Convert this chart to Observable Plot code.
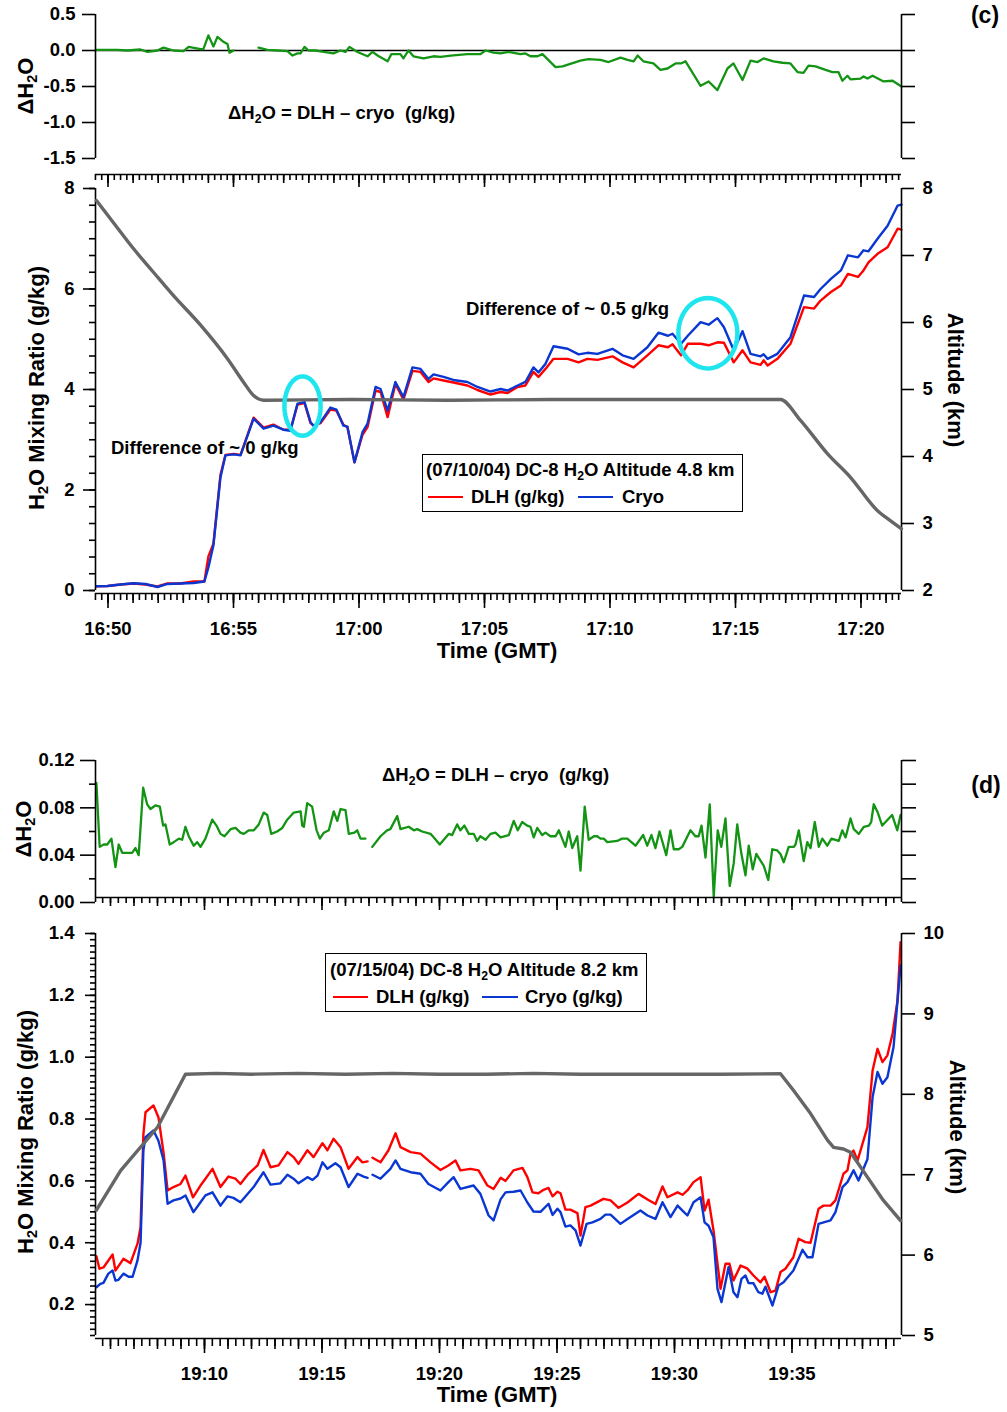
<!DOCTYPE html>
<html><head><meta charset="utf-8">
<script src="https://cdn.jsdelivr.net/npm/d3@7"></script>
<script src="https://cdn.jsdelivr.net/npm/@observablehq/plot@0.6"></script>
<style>
body{margin:0;background:#fff;}
#root{position:relative;width:1007px;height:1412px;overflow:hidden;font-family:"Liberation Sans",Arial,sans-serif;font-weight:bold;color:#000;background:#fff;}
.lbl{position:absolute;white-space:nowrap;line-height:1;}
.sub{font-size:0.66em;position:relative;top:0.3em;}
.legend{position:absolute;border:1.5px solid #000;background:#fff;box-sizing:border-box;}
.lline{position:absolute;height:2px;}
</style></head><body><div id="root"></div>
<script>
// ---------------- DATA ----------------
// Panel (c): times in minutes after 16:00 GMT (07/10/04)
const cTimeTicks = [50, 55, 60, 65, 70, 75, 80];
const cTimeLabels = ["16:50", "16:55", "17:00", "17:05", "17:10", "17:15", "17:20"];
const cT = [49.54,49.98,50.50,51.02,51.49,51.97,52.37,52.89,53.41,53.84,54.00,54.20,54.48,54.68,55.00,55.28,55.80,56.20,56.59,56.99,
  57.27,57.55,57.83,58.07,58.19,58.47,58.86,59.10,59.38,59.54,59.82,60.14,60.34,60.66,60.86,61.14,61.45,61.77,62.13,62.45,
  62.77,62.97,63.37,63.76,64.32,64.72,65.24,65.64,65.92,66.32,66.63,66.95,67.15,67.43,67.75,68.31,68.75,69.10,69.50,70.10,
  70.50,70.94,71.49,71.93,72.31,72.49,72.83,73.10,73.61,73.93,74.28,74.54,74.93,75.28,75.60,76.00,76.12,76.28,76.67,77.19,
  77.73,78.13,78.39,78.80,79.20,79.48,79.88,80.10,80.30,80.66,81.06,81.46,81.61];
const cCryo = [0.085,0.09,0.12,0.145,0.13,0.07,0.13,0.14,0.15,0.18,0.46,0.90,2.25,2.69,2.71,2.69,3.42,3.22,3.28,3.20,
  3.18,3.72,3.75,3.35,3.28,3.35,3.64,3.60,3.28,3.26,2.55,3.15,3.32,4.05,4.01,3.58,4.15,3.85,4.44,4.41,
  4.21,4.30,4.25,4.19,4.15,4.05,3.96,4.01,3.98,4.08,4.15,4.44,4.34,4.51,4.86,4.81,4.70,4.73,4.71,4.81,
  4.68,4.61,4.84,5.13,5.07,5.11,4.91,5.07,5.34,5.29,5.42,5.24,4.78,5.16,4.71,4.66,4.70,4.61,4.71,5.04,
  5.87,5.84,6.00,6.20,6.37,6.67,6.63,6.77,6.75,7.00,7.26,7.66,7.68];
const cDlh = [0.085,0.09,0.12,0.14,0.12,0.08,0.14,0.14,0.18,0.18,0.68,0.93,2.30,2.70,2.72,2.70,3.44,3.24,3.30,3.20,
  3.20,3.70,3.73,3.33,3.28,3.33,3.60,3.58,3.30,3.25,2.55,3.10,3.25,3.98,3.95,3.45,4.11,3.80,4.37,4.35,
  4.15,4.22,4.18,4.14,4.08,3.99,3.90,3.95,3.93,4.05,4.08,4.35,4.25,4.41,4.61,4.61,4.54,4.61,4.59,4.66,
  4.54,4.44,4.68,4.88,4.84,4.90,4.68,4.91,4.91,4.88,4.94,4.93,4.54,4.78,4.54,4.49,4.58,4.48,4.61,4.91,
  5.64,5.61,5.77,5.94,6.07,6.30,6.24,6.37,6.53,6.70,6.83,7.20,7.18];
const cAltT = [49.54,50.50,51.02,51.81,52.61,53.69,54.76,55.40,55.80,56.20,59.66,63.65,67.63,71.61,76.79,77.59,78.67,79.58,80.66,81.18,81.61];
const cAlt  = [7.82,7.35,7.10,6.75,6.40,5.96,5.46,5.11,4.91,4.84,4.85,4.84,4.85,4.85,4.85,4.54,4.04,3.69,3.19,3.04,2.92];
const cDeltaT = [49.54,50.38,50.78,51.29,51.57,51.97,52.21,52.61,53.01,53.21,53.69,53.80,54.00,54.20,54.36,54.60,54.76,54.84,55.00,55.50,
  56.00,56.35,56.75,57.15,57.35,57.55,57.67,57.83,57.99,58.27,58.59,58.98,59.26,59.46,59.62,59.94,60.34,60.54,60.74,61.14,
  61.29,61.65,61.77,61.97,62.17,62.57,62.97,63.25,63.65,64.32,64.84,65.04,65.36,65.64,65.96,66.43,66.63,66.83,67.11,67.31,
  67.83,68.11,68.82,69.14,69.62,69.94,70.42,70.70,70.94,71.10,71.33,71.73,72.01,72.29,72.61,72.83,73.01,73.61,73.93,74.28,
  74.68,74.92,75.28,75.60,75.88,76.12,76.51,76.87,77.19,77.47,77.71,77.91,78.19,78.59,78.86,79.10,79.26,79.46,79.58,79.98,
  80.10,80.26,80.46,80.90,81.26,81.61];
const cDelta = [0.01,0.01,0,0.014,-0.02,0,0.04,0,-0.01,0.05,0.02,0.02,0.21,0.055,0.19,0.12,0.09,-0.03,0,null,
  0.04,0.01,0,-0.01,-0.07,-0.04,-0.04,0.05,0,0,-0.02,-0.04,0,-0.02,0.05,-0.02,-0.08,-0.02,-0.07,-0.15,
  -0.05,-0.05,-0.11,0,-0.08,-0.11,-0.08,-0.09,-0.07,-0.05,-0.05,0,-0.03,-0.04,-0.02,-0.05,-0.04,-0.08,-0.08,-0.05,
  -0.23,-0.22,-0.14,-0.12,-0.13,-0.16,-0.10,-0.13,-0.15,-0.07,-0.15,-0.18,-0.27,-0.25,-0.18,-0.18,-0.15,-0.49,-0.43,-0.55,
  -0.25,-0.18,-0.41,-0.14,-0.16,-0.11,-0.15,-0.17,-0.18,-0.30,-0.31,-0.21,-0.22,-0.27,-0.30,-0.30,-0.42,-0.35,-0.40,-0.39,
  -0.36,-0.39,-0.35,-0.43,-0.42,-0.50];
const cDeltaTicks = [-1.5, -1, -0.5, 0, 0.5];
const cDeltaLabels = ["-1.5", "-1.0", "-0.5", "0.0", "0.5"];
const cMixTicks = [0, 2, 4, 6, 8];
const cMixLabels = ["0", "2", "4", "6", "8"];
const cAltTicks = [2, 3, 4, 5, 6, 7, 8];
const cAltLabels = ["2", "3", "4", "5", "6", "7", "8"];
// highlighted regions (centre time, centre value, half-width in min, half-height in g/kg)
const cRingT = [57.75, 73.90];
const cRingV = [3.67, 5.12];
const cRingRt = [0.72, 1.175];
const cRingRv = [0.59, 0.70];

// Panel (d): times in minutes after 19:00 GMT (07/15/04)
const dTimeTicks = [10, 15, 20, 25, 30, 35];
const dTimeLabels = ["19:10", "19:15", "19:20", "19:25", "19:30", "19:35"];
const dDlhT = [5.40,5.53,5.70,6.09,6.21,6.55,6.85,7.15,7.28,7.40,7.49,7.83,8.04,8.26,8.43,8.68,8.98,9.19,9.51,9.83,
  10.04,10.34,10.68,11.02,11.32,11.53,11.87,12.26,12.51,12.81,13.15,13.53,13.79,14.00,14.38,14.64,15.02,15.23,15.49,15.79,
  16.13,16.51,16.72,16.94,17.05,17.15,17.49,17.83,18.13,18.34,18.77,19.19,19.62,20.04,20.38,20.68,20.89,21.32,21.66,22.04,
  22.30,22.60,22.81,23.15,23.53,23.74,23.96,24.21,24.43,24.64,24.81,25.02,25.15,25.36,25.57,25.87,26.00,26.21,26.43,26.98,
  27.28,27.62,28.00,28.47,28.89,29.19,29.49,29.70,30.13,30.34,30.55,30.81,31.11,31.28,31.45,31.66,31.96,32.17,32.34,32.51,
  32.81,33.11,33.36,33.66,33.83,34.09,34.30,34.51,34.72,35.06,35.28,35.57,35.79,36.13,36.34,36.64,36.85,37.19,37.36,37.49,
  37.62,37.79,38.04,38.21,38.43,38.64,38.85,39.06,39.28,39.49,39.62];
const dDlh = [0.356,0.316,0.32,0.362,0.31,0.348,0.334,0.397,0.45,0.75,0.822,0.844,0.806,0.69,0.569,0.58,0.59,0.617,0.547,0.585,
  0.607,0.639,0.58,0.614,0.607,0.59,0.623,0.65,0.70,0.644,0.65,0.693,0.677,0.655,0.699,0.677,0.722,0.699,0.736,0.709,
  0.639,0.677,0.66,0.663,null,0.675,0.66,0.699,0.754,0.709,0.693,0.688,0.66,0.635,0.65,0.666,0.634,0.639,0.634,0.585,
  0.574,0.61,0.60,0.634,0.642,0.612,0.563,0.56,0.571,0.577,0.55,0.565,0.56,0.507,0.507,0.496,0.423,0.515,0.52,0.542,
  0.537,0.513,0.53,0.558,0.538,0.525,0.582,0.547,0.563,0.555,0.569,0.596,0.612,0.504,0.539,0.44,0.251,0.332,0.332,0.278,
  0.326,0.316,0.294,0.272,0.29,0.24,0.245,0.305,0.316,0.353,0.413,0.402,0.40,0.51,0.52,0.52,0.537,0.623,0.634,0.688,
  0.698,0.666,0.73,0.774,0.957,1.027,0.984,1.006,1.076,1.183,1.372];
const dCryoT = [5.40,5.57,5.70,5.91,6.09,6.21,6.34,6.55,6.77,6.94,7.15,7.28,7.40,7.49,7.83,8.04,8.26,8.43,8.68,8.98,
  9.19,9.53,9.83,10.04,10.34,10.68,10.98,11.23,11.53,12.09,12.51,12.81,13.23,13.53,13.79,14.00,14.38,14.60,14.81,15.02,
  15.23,15.57,15.79,16.13,16.51,16.77,16.94,17.05,17.15,17.49,17.91,18.13,18.34,18.77,19.19,19.53,20.04,20.38,20.60,20.89,
  21.45,21.74,22.09,22.30,22.60,22.81,23.15,23.45,23.74,24.00,24.30,24.64,24.81,25.02,25.15,25.36,25.57,25.79,26.00,26.26,
  26.51,26.85,27.06,27.28,27.70,28.00,28.34,28.55,28.85,29.19,29.49,29.83,30.13,30.34,30.55,30.81,31.11,31.28,31.45,31.66,
  31.83,32.00,32.30,32.51,32.68,32.85,33.02,33.15,33.36,33.57,33.74,33.87,34.17,34.43,34.64,35.06,35.45,35.66,35.87,36.13,
  36.64,36.85,37.15,37.36,37.62,37.83,38.21,38.43,38.64,38.85,39.06,39.32,39.62];
const dCryo = [0.256,0.267,0.27,0.30,0.31,0.278,0.28,0.30,0.29,0.29,0.343,0.40,0.70,0.741,0.763,0.73,0.666,0.526,0.537,0.543,
  0.553,0.499,0.531,0.553,0.563,0.52,0.55,0.545,0.531,0.58,0.628,0.588,0.592,0.62,0.607,0.592,0.612,0.603,0.617,0.66,
  0.639,0.657,0.644,0.58,0.623,0.614,0.61,null,0.62,0.607,0.639,0.666,0.639,0.628,0.623,0.59,0.569,0.596,0.612,0.574,
  0.585,0.558,0.488,0.472,0.54,0.563,0.565,0.569,0.53,0.501,0.50,0.526,0.49,0.51,0.499,0.452,0.456,0.44,0.391,0.461,
  0.466,0.477,0.491,0.491,0.461,0.477,0.494,0.504,0.488,0.477,0.531,0.483,0.52,0.504,0.488,0.531,0.547,0.466,0.455,0.418,
  0.251,0.208,0.321,0.24,0.224,0.283,0.294,0.27,0.269,0.24,0.235,0.258,0.197,0.262,0.272,0.31,0.377,0.353,0.353,0.461,
  0.472,0.499,0.58,0.596,0.634,0.601,0.67,0.871,0.952,0.914,0.935,1.032,1.297];
const dAltT = [5.40,6.43,8.00,9.19,10.5,12,14,16,18,20,22,24,26,28,30,32,34.51,35.06,35.79,36.51,36.77,37.19,37.49,38.21,38.89,39.62];
const dAlt  = [6.56,7.05,7.59,8.25,8.26,8.25,8.26,8.25,8.26,8.25,8.25,8.26,8.25,8.25,8.25,8.25,8.255,8.05,7.76,7.43,7.34,7.32,7.28,6.97,6.68,6.43];
const dDeltaT = [5.40,5.54,5.71,5.86,6.04,6.21,6.35,6.50,6.78,6.92,7.06,7.20,7.39,7.56,7.70,7.91,8.10,8.24,8.34,8.52,
  8.69,8.91,9.05,9.19,9.33,9.54,9.69,9.83,10.04,10.33,10.51,10.68,10.85,11.11,11.32,11.53,11.67,11.89,12.10,12.31,
  12.52,12.67,12.84,13.09,13.31,13.52,13.80,14.09,14.16,14.23,14.37,14.58,14.77,14.91,15.08,15.29,15.50,15.65,15.79,16.00,
  16.14,16.38,16.50,16.64,16.85,17.00,17.14,17.49,17.77,17.91,18.20,18.34,18.69,18.91,19.05,19.26,19.62,19.76,20.01,20.40,
  20.54,20.75,20.89,21.06,21.25,21.46,21.60,21.74,21.96,22.17,22.38,22.60,
  22.95,23.16,23.33,23.52,23.73,23.87,24.01,24.16,24.37,24.51,24.72,24.94,25.08,25.36,25.50,25.65,25.86,26.00,26.18,26.35,
  26.57,26.71,26.85,26.99,27.14,27.56,27.77,27.99,28.34,28.67,28.84,29.02,29.19,29.36,29.65,29.83,29.97,30.18,30.33,30.68,
  30.89,31.03,31.15,31.32,31.50,31.67,31.84,31.99,32.17,32.35,32.52,32.67,32.84,33.02,33.16,33.33,33.48,33.80,33.99,34.16,
  34.37,34.51,34.65,34.86,35.08,35.15,35.29,35.50,35.65,35.79,35.97,36.14,36.29,36.50,36.68,36.99,37.14,37.28,37.49,37.63,
  37.84,38.06,38.27,38.37,38.48,38.65,38.84,39.26,39.48,39.62];
const dDelta = [0.101,0.047,0.049,0.049,0.054,0.030,0.049,0.042,0.042,0.042,0.046,0.040,0.097,0.083,0.079,0.082,0.081,0.065,0.066,0.049,
  0.051,0.054,0.053,0.064,0.056,0.048,0.051,0.047,0.054,0.070,0.065,0.058,0.056,0.062,0.063,0.059,0.058,0.061,0.061,0.066,
  0.076,0.074,0.058,0.060,0.063,0.070,0.076,0.077,0.065,0.064,0.084,0.081,0.061,0.054,0.059,0.061,0.077,0.069,0.079,0.078,
  0.058,0.059,0.061,0.054,0.054,null,0.047,0.056,0.061,0.062,0.073,0.062,0.064,0.061,0.062,0.060,0.058,0.055,0.049,0.058,
  0.057,0.066,0.061,0.065,0.058,0.058,0.052,0.056,0.053,0.058,0.059,0.055,
  0.057,0.069,0.061,0.068,0.065,0.064,0.055,0.063,0.057,0.059,0.056,0.056,0.061,0.047,0.060,0.046,0.056,0.027,0.081,0.053,
  0.056,0.056,0.054,0.054,0.051,0.052,0.054,0.054,0.048,0.057,0.048,0.057,0.046,0.060,0.040,0.061,0.045,0.045,0.047,0.061,
  0.056,0.056,0.065,0.038,0.083,0.005,0.061,0.047,0.071,0.014,0.033,0.066,0.042,0.023,0.048,0.028,0.041,0.031,0.019,0.045,
  0.044,0.041,0.034,0.047,0.047,0.049,0.061,0.035,0.051,0.046,0.068,0.047,0.054,0.048,0.054,0.052,0.061,0.055,0.071,0.062,
  0.058,0.064,0.065,0.068,0.083,0.076,0.065,0.074,0.061,0.074];
const dDeltaTicks = [0, 0.04, 0.08, 0.12];
const dDeltaLabels = ["0.00", "0.04", "0.08", "0.12"];
const dMixTicks = [0.2, 0.4, 0.6, 0.8, 1.0, 1.2, 1.4];
const dMixLabels = ["0.2", "0.4", "0.6", "0.8", "1.0", "1.2", "1.4"];
const dAltTicks = [5, 6, 7, 8, 9, 10];
const dAltLabels = ["5", "6", "7", "8", "9", "10"];

// ---------------- STYLE ----------------
const RED = "#ff0000", BLUE = "#0a36d2", GRAY = "#666666", GREEN = "#149414", CYAN = "#1fe6ee";
const W = 1007, ML = 95, MR = 1007 - 901;
const cXDomain = [49.502, 81.614];
const dXDomain = [5.362, 39.660];
const ST = "font-family:'Liberation Sans',Arial,sans-serif;font-size:18.5px;font-weight:bold;background:transparent;overflow:visible;";
const AX = 1.6;
const fmt = (ticks, labels) => { const m = new Map(ticks.map((t, i) => [t, labels[i]])); return d => m.get(d); };
const rows = (T, V) => T.map((t, i) => ({t, v: V[i]}));
const root = document.getElementById("root");
function place(svg, top) { svg.style.position = "absolute"; svg.style.left = "0px"; svg.style.top = top + "px"; root.appendChild(svg); }

// time axis helper (minor / minute / five-minute ticks), optionally labelled
function timeAxis(minor, mid, major, labels, dy, sizes, withLabels) {
  const m = [
    Plot.axisX(minor, {anchor: "bottom", tickSize: sizes[0], dy, fill: "none", label: null, strokeWidth: AX}),
    Plot.axisX(mid, {anchor: "bottom", tickSize: sizes[1], dy, fill: "none", label: null, strokeWidth: AX})
  ];
  if (withLabels) m.push(Plot.axisX(major, {anchor: "bottom", tickSize: sizes[2], tickPadding: 13, dy, tickFormat: fmt(major, labels), label: null, strokeWidth: AX}));
  else m.push(Plot.axisX(major, {anchor: "bottom", tickSize: sizes[2], dy, fill: "none", label: null, strokeWidth: AX}));
  return m;
}
const cMinor = d3.range(198, 327).map(i => i / 4);
const cMid = d3.range(50, 82);
const dMinor = d3.range(17, 119).map(i => i / 3);
const dMid = d3.range(6, 40);

// ---------------- PANEL (c) ΔH2O ----------------
place(Plot.plot({
  width: W, height: 200, marginLeft: ML, marginRight: MR, marginTop: 14, marginBottom: 42, style: ST,
  x: {domain: cXDomain, axis: null}, y: {domain: [-1.5, 0.5], axis: null},
  marks: [
    Plot.ruleY([0], {stroke: "#000", strokeWidth: 1.5}),
    Plot.line(rows(cDeltaT, cDelta), {x: "t", y: "v", stroke: GREEN, strokeWidth: 2.3}),
    Plot.ruleX(cXDomain, {strokeWidth: AX}),
    Plot.axisY(cDeltaTicks, {anchor: "left", tickSize: 13, tickPadding: 7, tickFormat: fmt(cDeltaTicks, cDeltaLabels), label: null, strokeWidth: AX}),
    Plot.axisY(cDeltaTicks, {anchor: "right", tickSize: 13, fill: "none", label: null, strokeWidth: AX}),
    Plot.ruleY([-1.5], {dy: 16, strokeWidth: AX}),
    ...timeAxis(cMinor, cMid, cTimeTicks, cTimeLabels, 16, [6, 9, 13], false)
  ]
}), 0);

// ---------------- PANEL (c) main ----------------
const ringPts = cRingT.flatMap((t, k) => d3.range(0, 73).map(j => ({k, t: t + cRingRt[k] * Math.cos(j / 72 * 2 * Math.PI), v: cRingV[k] + cRingRv[k] * Math.sin(j / 72 * 2 * Math.PI)})));
place(Plot.plot({
  width: W, height: 500, marginLeft: ML, marginRight: MR, marginTop: 18, marginBottom: 80, style: ST,
  x: {domain: cXDomain, axis: null}, y: {domain: [0, 8], axis: null},
  marks: [
    Plot.line(rows(cT, cDlh), {x: "t", y: "v", stroke: RED, strokeWidth: 2.4}),
    Plot.line(rows(cT, cCryo), {x: "t", y: "v", stroke: BLUE, strokeWidth: 2.4}),
    Plot.ruleX(cXDomain, {strokeWidth: AX}),
    Plot.ruleY([0], {dy: 3, strokeWidth: AX}),
    Plot.axisY(d3.range(0, 25).map(i => i / 3), {anchor: "left", tickSize: 6, fill: "none", label: null, strokeWidth: AX}),
    Plot.axisY(cMixTicks, {anchor: "left", tickSize: 12, tickPadding: 9, tickFormat: fmt(cMixTicks, cMixLabels), label: null, strokeWidth: AX}),
    ...timeAxis(cMinor, cMid, cTimeTicks, cTimeLabels, 3, [7, 10, 15], true)
  ]
}), 170);
place(Plot.plot({
  width: W, height: 500, marginLeft: ML, marginRight: MR, marginTop: 18, marginBottom: 80, style: ST,
  x: {domain: cXDomain, axis: null}, y: {domain: [2, 8], axis: null},
  marks: [
    Plot.line(rows(cAltT, cAlt), {x: "t", y: "v", stroke: GRAY, strokeWidth: 3.4, curve: "monotone-x"}),
    Plot.axisY(cAltTicks, {anchor: "right", tickSize: 12, tickPadding: 9, tickFormat: fmt(cAltTicks, cAltLabels), label: null, strokeWidth: AX})
  ]
}), 170);
place(Plot.plot({
  width: W, height: 500, marginLeft: ML, marginRight: MR, marginTop: 18, marginBottom: 80, style: ST,
  x: {domain: cXDomain, axis: null}, y: {domain: [0, 8], axis: null},
  marks: [ Plot.line(ringPts, {x: "t", y: "v", z: "k", stroke: CYAN, strokeWidth: 4.5}) ]
}), 170);

// ---------------- PANEL (d) ΔH2O ----------------
place(Plot.plot({
  width: W, height: 200, marginLeft: ML, marginRight: MR, marginTop: 20, marginBottom: 38, style: ST,
  x: {domain: dXDomain, axis: null}, y: {domain: [0, 0.12], axis: null},
  marks: [
    Plot.line(rows(dDeltaT, dDelta), {x: "t", y: "v", stroke: GREEN, strokeWidth: 2.3}),
    Plot.ruleX(dXDomain, {strokeWidth: AX}),
    Plot.axisY([0.02, 0.06, 0.10], {anchor: "left", tickSize: 6, fill: "none", label: null, strokeWidth: AX}),
    Plot.axisY(dDeltaTicks, {anchor: "left", tickSize: 15, tickPadding: 6, tickFormat: fmt(dDeltaTicks, dDeltaLabels), label: null, strokeWidth: AX}),
    Plot.axisY([0, 0.02, 0.04, 0.06, 0.08, 0.10, 0.12], {anchor: "right", tickSize: 14, fill: "none", label: null, strokeWidth: AX}),
    Plot.ruleY([0], {dy: -5, strokeWidth: AX}),
    ...timeAxis(dMinor, dMid, dTimeTicks, dTimeLabels, -5, [6, 9, 13], false)
  ]
}), 740);

// ---------------- PANEL (d) main ----------------
place(Plot.plot({
  width: W, height: 492, marginLeft: ML, marginRight: MR, marginTop: 13, marginBottom: 77, style: ST,
  x: {domain: dXDomain, axis: null}, y: {domain: [0.1, 1.4], axis: null},
  marks: [
    Plot.line(rows(dDlhT, dDlh), {x: "t", y: "v", stroke: RED, strokeWidth: 2.4}),
    Plot.line(rows(dCryoT, dCryo), {x: "t", y: "v", stroke: BLUE, strokeWidth: 2.4}),
    Plot.ruleX(dXDomain, {strokeWidth: AX}),
    Plot.ruleY([0.1], {dy: 3, strokeWidth: AX}),
    Plot.axisY(d3.range(5, 71).map(i => i / 50), {anchor: "left", tickSize: 5, fill: "none", label: null, strokeWidth: AX}),
    Plot.axisY(dMixTicks, {anchor: "left", tickSize: 10, tickPadding: 11, tickFormat: fmt(dMixTicks, dMixLabels), label: null, strokeWidth: AX}),
    ...timeAxis(dMinor, dMid, dTimeTicks, dTimeLabels, 3, [8, 11, 15], true)
  ]
}), 920);
place(Plot.plot({
  width: W, height: 492, marginLeft: ML, marginRight: MR, marginTop: 13, marginBottom: 77, style: ST,
  x: {domain: dXDomain, axis: null}, y: {domain: [5, 10], axis: null},
  marks: [
    Plot.line(rows(dAltT, dAlt), {x: "t", y: "v", stroke: GRAY, strokeWidth: 3.4}),
    Plot.axisY(dAltTicks, {anchor: "right", tickSize: 13, tickPadding: 9, tickFormat: fmt(dAltTicks, dAltLabels), label: null, strokeWidth: AX})
  ]
}), 920);

// ---------------- TEXT ----------------
function txt(html, x, y, o = {}) {
  const d = document.createElement("div");
  d.className = "lbl";
  d.innerHTML = html;
  d.style.left = x + "px"; d.style.top = y + "px";
  d.style.fontSize = (o.size || 18.5) + "px";
  d.style.transform = o.rotate !== undefined ? `translate(-50%,-50%) rotate(${o.rotate}deg)` : (o.center ? "translate(-50%,-50%)" : "translateY(-50%)");
  root.appendChild(d);
}
const H2O = 'H<span class="sub">2</span>O';
txt("(c)", 985, 15, {size: 23, center: true});
txt("(d)", 986, 785, {size: 23, center: true});
txt("Δ" + H2O, 26, 86, {size: 22, rotate: -90});
txt(H2O + " Mixing Ratio (g/kg)", 37, 388, {size: 22, rotate: -90});
txt("Altitude (km)", 955, 380, {size: 22, rotate: 90});
txt("Time (GMT)", 497, 651, {size: 22, center: true});
txt("Δ" + H2O, 24, 829, {size: 22, rotate: -90});
txt(H2O + " Mixing Ratio (g/kg)", 26, 1132, {size: 22, rotate: -90});
txt("Altitude (km)", 957, 1127, {size: 22, rotate: 90});
txt("Time (GMT)", 497, 1395, {size: 22, center: true});
txt("Δ" + H2O + " = DLH – cryo&nbsp; (g/kg)", 228, 113);
txt("Δ" + H2O + " = DLH – cryo&nbsp; (g/kg)", 382, 775);
txt("Difference of ~ 0.5 g/kg", 466, 309);
txt("Difference of ~ 0 g/kg", 111, 448);

function legend(x, y, w, h, title, items) {
  const b = document.createElement("div");
  b.className = "legend";
  Object.assign(b.style, {left: x + "px", top: y + "px", width: w + "px", height: h + "px"});
  root.appendChild(b);
  txt(title.text, title.x, title.y);
  for (const it of items) {
    const l = document.createElement("div");
    l.className = "lline";
    Object.assign(l.style, {left: it.x0 + "px", top: (it.y - 1) + "px", width: (it.x1 - it.x0) + "px", background: it.color});
    root.appendChild(l);
    txt(it.label, it.tx, it.y);
  }
}
legend(422, 454, 321, 58, {text: "(07/10/04) DC-8 " + H2O + " Altitude 4.8 km", x: 426, y: 470},
  [{x0: 428, x1: 463, y: 497, color: RED, label: "DLH (g/kg)", tx: 471},
   {x0: 578, x1: 613, y: 497, color: BLUE, label: "Cryo", tx: 622}]);
legend(325, 953, 322, 59, {text: "(07/15/04) DC-8 " + H2O + " Altitude 8.2 km", x: 330, y: 970},
  [{x0: 333, x1: 368, y: 997, color: RED, label: "DLH (g/kg)", tx: 376},
   {x0: 482, x1: 518, y: 997, color: BLUE, label: "Cryo (g/kg)", tx: 525}]);
</script></body></html>
